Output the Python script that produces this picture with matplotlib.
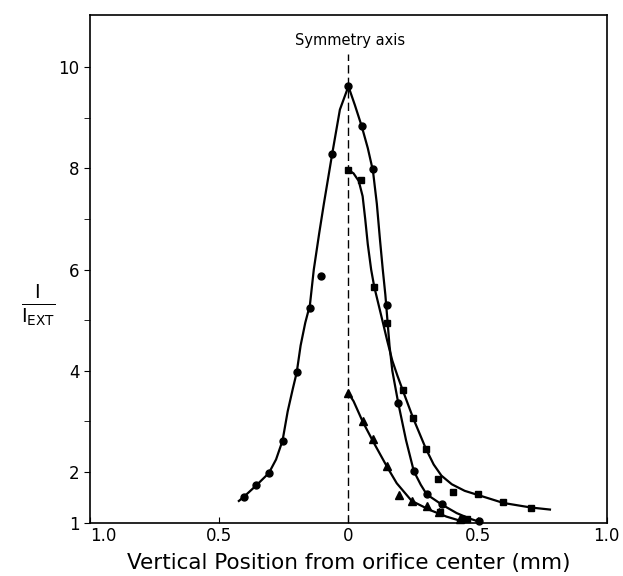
import matplotlib
matplotlib.use('Agg')
import matplotlib.pyplot as plt

circ_x = [-0.405, -0.356, -0.308, -0.255, -0.2, -0.149, -0.108, -0.063, 0.0,
          0.051, 0.096, 0.148, 0.193, 0.253, 0.303, 0.361, 0.445, 0.505]
circ_y = [1.51, 1.75, 1.98, 2.62, 3.97, 5.25, 5.88, 8.28, 9.62,
          8.84, 7.99, 5.30, 3.36, 2.02, 1.56, 1.36, 1.07, 1.03]

sq_x = [0.0, 0.048, 0.1, 0.15, 0.21, 0.251, 0.3, 0.348, 0.404, 0.5, 0.6, 0.707, 0.355, 0.458]
sq_y = [7.97, 7.77, 5.66, 4.94, 3.62, 3.06, 2.46, 1.86, 1.61, 1.57, 1.40, 1.30, 1.22, 1.07]

tri_x = [0.0, 0.055, 0.096, 0.15, 0.197, 0.245, 0.303, 0.35, 0.432]
tri_y = [3.56, 3.0, 2.65, 2.12, 1.55, 1.43, 1.34, 1.22, 1.07]

# hand drawn fit curves
circ_cx = [-0.424, -0.405, -0.356, -0.308, -0.28, -0.255, -0.235, -0.215, -0.2, -0.185,
           -0.167, -0.149, -0.134, -0.113, -0.095, -0.063, -0.033, 0.0,
           0.025, 0.051, 0.075, 0.095, 0.11, 0.122, 0.133, 0.143, 0.151, 0.159,
           0.17, 0.193, 0.223, 0.253, 0.28, 0.303, 0.361, 0.419, 0.47, 0.506]
circ_cy = [1.43, 1.51, 1.74, 1.98, 2.25, 2.62, 3.2, 3.65, 3.97, 4.5,
           4.95, 5.3, 6.0, 6.72, 7.3, 8.28, 9.16, 9.62,
           9.25, 8.84, 8.4, 7.95, 7.3, 6.6, 6.0, 5.5, 5.0, 4.5,
           4.0, 3.36, 2.63, 2.02, 1.75, 1.56, 1.36, 1.19, 1.08, 1.02]

sq_cx = [0.0, 0.02, 0.04, 0.055, 0.065, 0.075, 0.088, 0.1, 0.128, 0.15, 0.17, 0.19, 0.21,
         0.251, 0.3, 0.33, 0.36, 0.4, 0.45, 0.5, 0.6, 0.707, 0.78]
sq_cy = [7.97, 7.9, 7.75, 7.45, 7.0, 6.5, 6.0, 5.66, 5.07, 4.6, 4.2, 3.9, 3.62,
         3.06, 2.46, 2.15, 1.93, 1.76, 1.63, 1.55, 1.39, 1.30, 1.26]

tri_cx = [0.0, 0.02, 0.055, 0.096, 0.15, 0.187, 0.245, 0.316, 0.38, 0.445]
tri_cy = [3.56, 3.4, 3.0, 2.6, 2.1, 1.78, 1.43, 1.25, 1.12, 1.02]

xtick_vals = [-1.0, -0.5, 0.0, 0.5, 1.0]
xtick_labels = ['1.0', '0.5', '0', '0.5', '1.0']
ytick_vals = [1, 2, 4, 6, 8, 10]
yminor_vals = [3, 5, 7, 9]

fig = plt.figure(figsize=(6.23, 5.76), dpi=100)
ax = fig.add_axes([0.1445, 0.0925, 0.8295, 0.8815])

ax.plot(circ_cx, circ_cy, color='black', lw=1.6)
ax.plot(sq_cx, sq_cy, color='black', lw=1.6)
ax.plot(tri_cx, tri_cy, color='black', lw=1.6)

ax.plot(circ_x, circ_y, 'o', color='black', ms=5, clip_on=False)
ax.plot(sq_x, sq_y, 's', color='black', ms=5, clip_on=False)
ax.plot(tri_x, tri_y, '^', color='black', ms=6, clip_on=False)

# symmetry axis
ax.plot([0, 0], [1, 10.25], color='black', lw=1, ls=(0, (6, 3)))
ax.text(0.005, 10.52, 'Symmetry axis', ha='center', va='center', fontsize=10.5)

ax.set_xlim(-1.0, 1.0)
ax.set_ylim(1.0, 11.03)
ax.set_xticks(xtick_vals)
ax.set_xticklabels(xtick_labels)
ax.get_xticklabels()[0].set_ha('left')
ax.set_yticks(ytick_vals)
ax.set_yticks(yminor_vals, minor=True)
ax.tick_params(axis='x', direction='in', length=4, labelsize=12, pad=3)
ax.tick_params(axis='y', which='both', direction='out', length=4, labelsize=12)
for s in ax.spines.values():
    s.set_linewidth(1.2)

ax.set_xlabel('Vertical Position from orifice center (mm)', fontsize=15.5, labelpad=6)
ax.text(-1.2, 5.3, r'$\frac{\mathrm{I}}{\mathrm{I}_{\mathrm{EXT}}}$', fontsize=20,
        ha='center', va='center')

fig.savefig('out.png', dpi=100)
